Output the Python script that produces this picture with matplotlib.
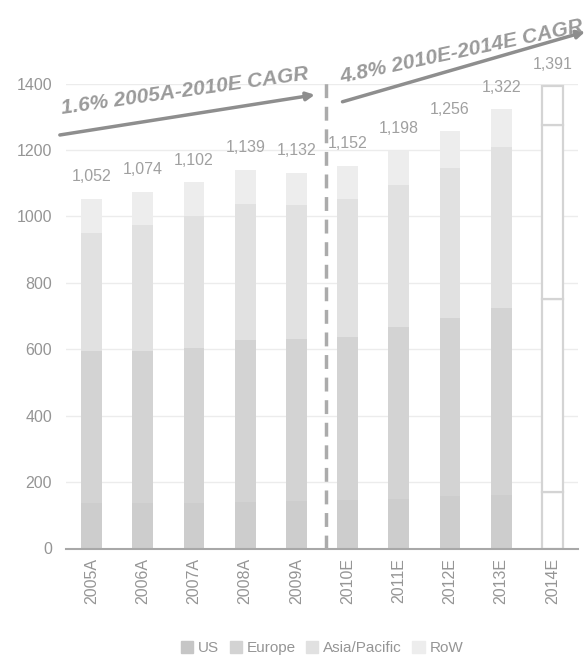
import numpy as np
import matplotlib.pyplot as plt
from matplotlib.patches import Patch

plt.rcParams["font.family"] = ["Liberation Sans", "DejaVu Sans"]

years = ["2005A", "2006A", "2007A", "2008A", "2009A",
         "2010E", "2011E", "2012E", "2013E", "2014E"]
us = [136, 136, 137, 140, 142, 145, 150, 158, 161, 171]
europe = [458, 459, 466, 489, 488, 491, 517, 536, 563, 581]
asia = [357, 378, 398, 409, 403, 415, 426, 453, 485, 524]
row = [101, 101, 101, 101, 99, 101, 105, 109, 113, 115]
totals = [1052, 1074, 1102, 1139, 1132, 1152, 1198, 1256, 1322, 1391]
outlined = [False] * 9 + [True]

series = [("US", us, "#cdcdcd"), ("Europe", europe, "#d3d3d3"),
          ("Asia/Pacific", asia, "#e1e1e1"), ("RoW", row, "#ededed")]

grey_txt = "#959595"
fig = plt.figure(figsize=(5.86, 6.66), dpi=100)
ax = fig.add_axes([66 / 586, 1 - 548.5 / 666, 512 / 586, 465 / 666])

x = np.arange(len(years))
bottom = np.zeros(len(years))
for name, vals, col in series:
    vals = np.array(vals)
    for i in x:
        if outlined[i]:
            ax.bar(i, vals[i], 0.41, bottom=bottom[i], facecolor="white",
                   edgecolor="#d4d4d4", linewidth=1.6, zorder=3)
        else:
            ax.bar(i, vals[i], 0.41, bottom=bottom[i], color=col, zorder=3)
    bottom += vals

for i, t in enumerate(totals):
    ax.annotate(f"{t:,}", (i, t), xytext=(0, 16), textcoords="offset points",
                ha="center", va="center", fontsize=11.5, color="#a0a0a0")

ax.set_xlim(-0.5, 9.5)
ax.set_ylim(0, 1400)
ax.set_yticks(range(0, 1401, 200))
ax.set_xticks(x)
ax.set_xticklabels(years, rotation=90)
ax.tick_params(axis="both", length=0, labelsize=11.5, labelcolor=grey_txt)
ax.tick_params(axis="y", pad=10)
ax.tick_params(axis="x", pad=7)
ax.grid(axis="y", color="#ececec", linewidth=1, zorder=0)
for s in ["top", "right", "left"]:
    ax.spines[s].set_visible(False)
ax.spines["bottom"].set_color("#a8a8a8")
ax.spines["bottom"].set_linewidth(1.5)
ax.spines["bottom"].set_zorder(4)

# divider between actuals and estimates
ax.plot([4.57, 4.57], [0, 1410], color="#ababab", linewidth=2.5,
        dashes=(4, 2.5), clip_on=False, zorder=5)

# CAGR arrows and labels
arrow_kw = dict(arrowstyle="-|>", color="#8e8e8e", lw=2.5,
                mutation_scale=12, shrinkA=0, shrinkB=0)
ax.annotate("", xy=(4.36, 1366), xytext=(-0.62, 1245),
            arrowprops=arrow_kw, annotation_clip=False)
ax.annotate("", xy=(9.64, 1556), xytext=(4.9, 1345),
            arrowprops=arrow_kw, annotation_clip=False)
ax.text(1.82, 1378, "1.6% 2005A-2010E CAGR", rotation=8, ha="center",
        va="center", fontsize=15, style="italic", fontweight="bold",
        color="#9a9a9a", rotation_mode="anchor", clip_on=False)
ax.text(7.23, 1494, "4.8% 2010E-2014E CAGR", rotation=12, ha="center",
        va="center", fontsize=15, style="italic", fontweight="bold",
        color="#9a9a9a", rotation_mode="anchor", clip_on=False)

handles = [Patch(color=c, label=n) for n, _, c in series]
handles[0].set_color("#c6c6c6")
fig.legend(handles=handles, loc="center", bbox_to_anchor=(322 / 586, 1 - 648 / 666),
           ncol=4, frameon=False, fontsize=11, labelcolor=grey_txt,
           handlelength=0.8, handleheight=0.8, handletextpad=0.3,
           columnspacing=0.7)

fig.savefig("out.png", dpi=100)
